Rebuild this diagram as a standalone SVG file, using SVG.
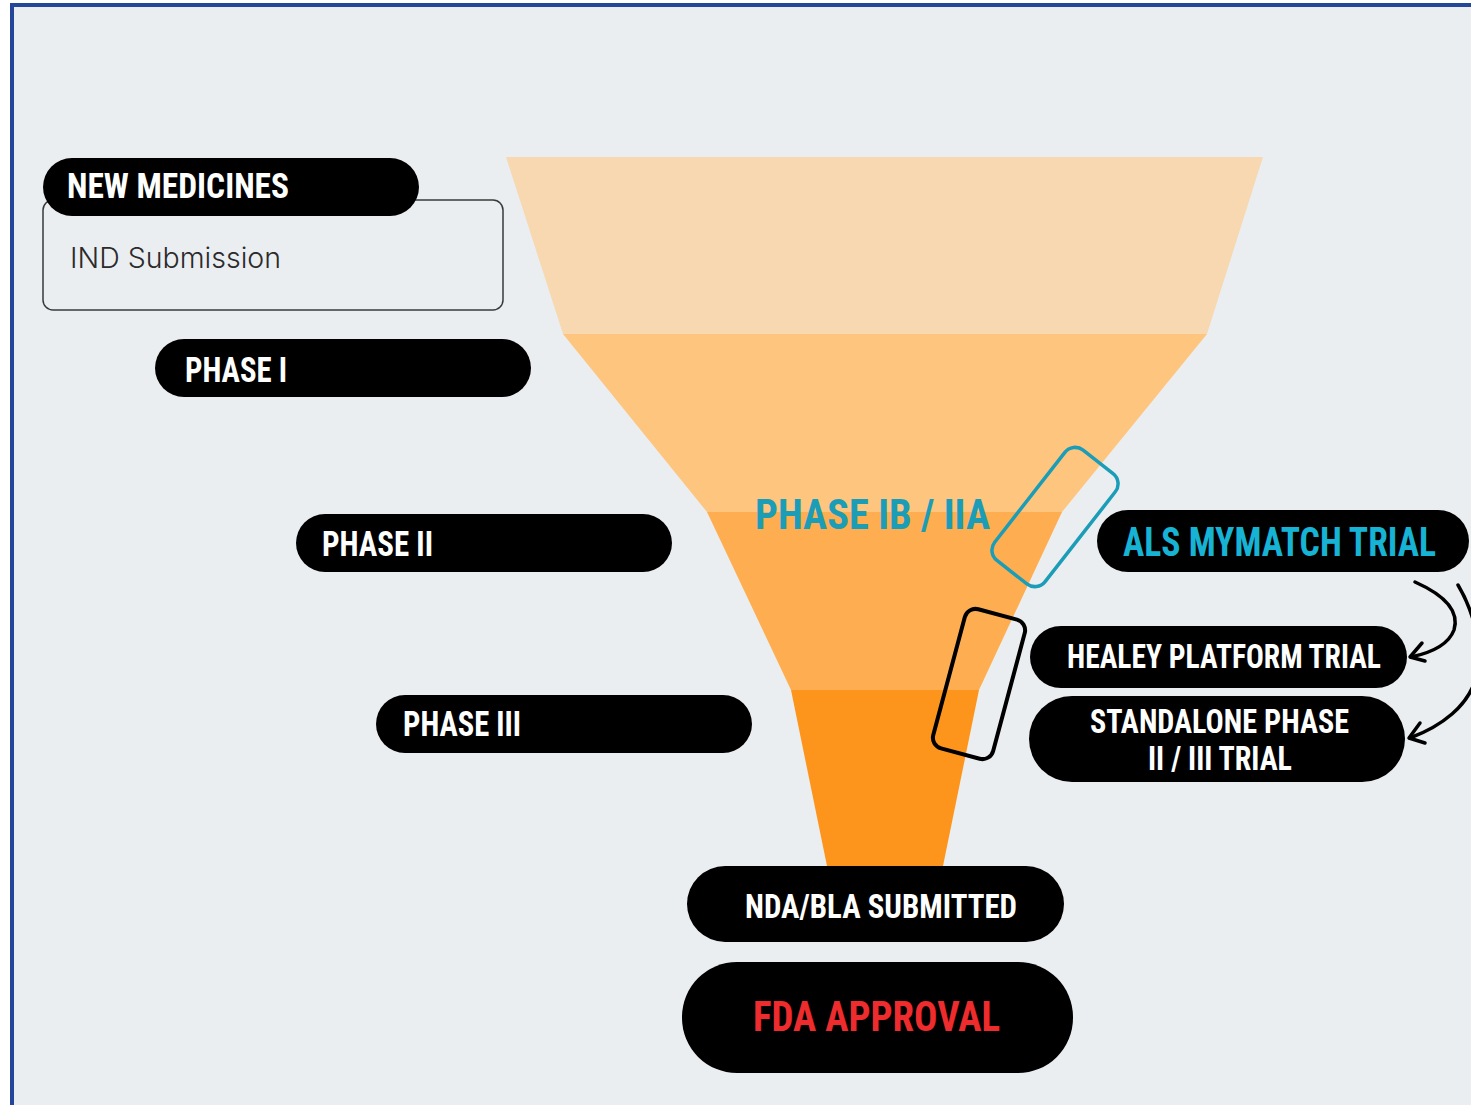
<svg xmlns="http://www.w3.org/2000/svg" width="1471" height="1105" viewBox="0 0 1471 1105">
<defs>
<style>
.pill{fill:#000}
.lbl{font-family:"Liberation Sans Narrow","Roboto Condensed","Liberation Sans",Arial,sans-serif;font-weight:700;fill:#fff}
.conn{fill:none;stroke:#000;stroke-width:3.5;stroke-linecap:round;stroke-linejoin:round}
</style>
</defs>
<rect x="0" y="0" width="1471" height="1105" fill="#ffffff"/>
<rect x="12" y="5" width="1459" height="1100" fill="#EBEEF1"/>
<line x1="12" y1="5" x2="1471" y2="5" stroke="#25479A" stroke-width="4"/>
<line x1="12" y1="3" x2="12" y2="1105" stroke="#25479A" stroke-width="4"/>

<g id="funnel">
<polygon points="506,157 1263,157 1207,334 563,334" fill="#F7D8B1"/>
<polygon points="563,334 1207,334 1062,512 707,512" fill="#FEC57F"/>
<polygon points="707,512 1062,512 979,690 791,690" fill="#FEAE50"/>
<polygon points="791,690 979,690 943,866 827,866" fill="#FD951C"/>
</g>

<g id="phase-ib-iia">
<text class="lbl" x="755" y="529" font-size="43" style="fill:#1B9DB7" textLength="235" lengthAdjust="spacingAndGlyphs">PHASE IB / IIA</text>
</g>

<g id="highlight-teal">
<rect x="-32" y="-70" width="64" height="140" rx="13" fill="none" stroke="#1B9DB7" stroke-width="3.5" transform="translate(1055,517) rotate(38)"/>
</g>
<g id="highlight-black">
<rect x="-31" y="-72" width="62" height="144" rx="11" fill="none" stroke="#000" stroke-width="4" transform="translate(979,684) rotate(15)"/>
</g>

<g id="ind-submission">
<rect x="43" y="200" width="460" height="110" rx="10" fill="none" stroke="#3a3a3a" stroke-width="1.5"/>
<text x="70" y="268" font-family="Inter,'Noto Sans','Liberation Sans',sans-serif" font-size="28" font-weight="300" fill="#2b2b2b" textLength="211" lengthAdjust="spacingAndGlyphs">IND Submission</text>
</g>

<g id="new-medicines">
<rect class="pill" x="43" y="158" width="376" height="58" rx="29"/>
<text class="lbl" x="67" y="198" font-size="35" textLength="222" lengthAdjust="spacingAndGlyphs">NEW MEDICINES</text>
</g>

<g id="phase-i">
<rect class="pill" x="155" y="339" width="376" height="58" rx="29"/>
<text class="lbl" x="185" y="382" font-size="35" textLength="102" lengthAdjust="spacingAndGlyphs">PHASE I</text>
</g>

<g id="phase-ii">
<rect class="pill" x="296" y="514" width="376" height="58" rx="29"/>
<text class="lbl" x="322" y="556" font-size="35" textLength="111" lengthAdjust="spacingAndGlyphs">PHASE II</text>
</g>

<g id="phase-iii">
<rect class="pill" x="376" y="695" width="376" height="58" rx="29"/>
<text class="lbl" x="403" y="736" font-size="35" textLength="118" lengthAdjust="spacingAndGlyphs">PHASE III</text>
</g>

<g id="als-mymatch">
<rect class="pill" x="1097" y="510" width="372" height="62" rx="31"/>
<text class="lbl" x="1123" y="556" font-size="40" style="fill:#17B3D4" textLength="313" lengthAdjust="spacingAndGlyphs">ALS MYMATCH TRIAL</text>
</g>

<g id="healey">
<rect class="pill" x="1030" y="626" width="377" height="62" rx="31"/>
<text class="lbl" x="1067" y="668" font-size="34" textLength="314" lengthAdjust="spacingAndGlyphs">HEALEY PLATFORM TRIAL</text>
</g>

<g id="standalone">
<rect class="pill" x="1029" y="696" width="376" height="86" rx="43"/>
<text class="lbl" x="1090" y="733" font-size="34" textLength="259" lengthAdjust="spacingAndGlyphs">STANDALONE PHASE</text>
<text class="lbl" x="1148" y="770" font-size="34" textLength="144" lengthAdjust="spacingAndGlyphs">II / III TRIAL</text>
</g>

<g id="nda-bla">
<rect class="pill" x="687" y="866" width="377" height="76" rx="38"/>
<text class="lbl" x="745" y="918" font-size="34" textLength="272" lengthAdjust="spacingAndGlyphs">NDA/BLA SUBMITTED</text>
</g>

<g id="fda-approval">
<rect class="pill" x="682" y="962" width="391" height="111" rx="55"/>
<text class="lbl" x="753" y="1031" font-size="43" style="fill:#EE2B2D" textLength="247" lengthAdjust="spacingAndGlyphs">FDA APPROVAL</text>
</g>

<g id="connectors">
<path class="conn" d="M1415,582 C1442,594 1460,610 1454,630 C1448,646 1430,653 1411,657"/>
<path class="conn" d="M1422,643 L1410,657 L1425,661"/>
<path class="conn" d="M1458,585 C1474,612 1484,650 1476,678 C1468,706 1442,726 1410,738"/>
<path class="conn" d="M1420,723 L1409,738 L1425,743"/>
</g>
</svg>
